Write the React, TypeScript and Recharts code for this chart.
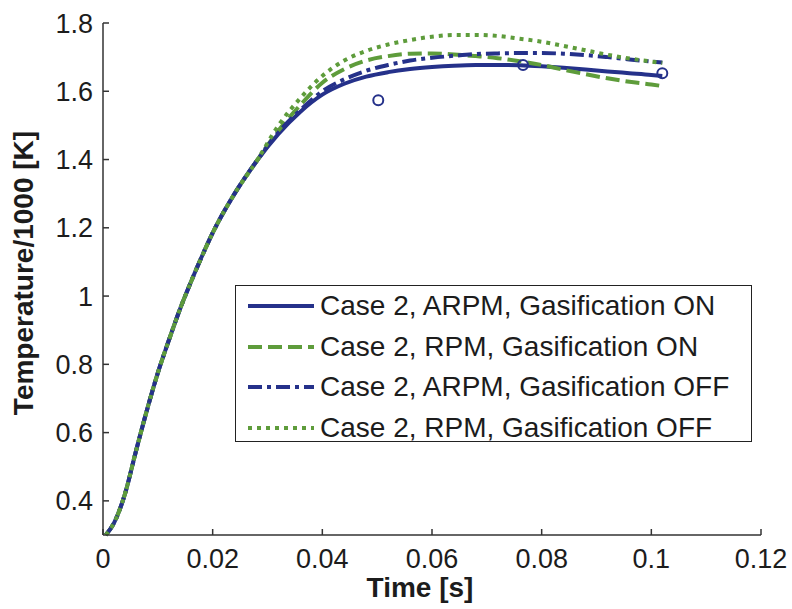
import React from 'react';
import {
  ComposedChart, Line, Scatter, XAxis, YAxis, Legend,
} from 'recharts';

const time = [0.0005, 0.002, 0.004, 0.006, 0.008, 0.01, 0.012, 0.014, 0.016, 0.018, 0.02, 0.024, 0.028,
  0.032, 0.036, 0.04, 0.044, 0.048, 0.052, 0.056, 0.06, 0.064, 0.068, 0.072, 0.076, 0.08, 0.084,
  0.088, 0.092, 0.096, 0.1, 0.102];

// shared rise, all four cases overlap here
const rise = [0.3, 0.335, 0.42, 0.545, 0.665, 0.775, 0.87, 0.96, 1.04, 1.115, 1.185, 1.3, 1.395];

const arpmOn = [...rise, 1.475, 1.54, 1.59, 1.622, 1.643, 1.656, 1.665, 1.671, 1.675, 1.677, 1.677, 1.676,
  1.673, 1.669, 1.664, 1.658, 1.653, 1.648, 1.645];
const rpmOn = [...rise, 1.485, 1.56, 1.625, 1.665, 1.69, 1.703, 1.71, 1.711, 1.708, 1.703, 1.697, 1.688,
  1.677, 1.663, 1.65, 1.638, 1.628, 1.62, 1.615];
const arpmOff = [...rise, 1.48, 1.545, 1.6, 1.635, 1.66, 1.677, 1.69, 1.698, 1.704, 1.709, 1.711, 1.712,
  1.712, 1.71, 1.706, 1.7, 1.693, 1.687, 1.684];
const rpmOff = [...rise, 1.5, 1.58, 1.645, 1.69, 1.718, 1.737, 1.75, 1.76, 1.765, 1.765, 1.762, 1.754,
  1.745, 1.733, 1.72, 1.707, 1.696, 1.687, 1.683];

const expTime = [0.0502, 0.0766, 0.102];
const expTemp = [1.574, 1.677, 1.653];

const xTicks = [0, 0.02, 0.04, 0.06, 0.08, 0.1, 0.12];
const yTicks = [0.4, 0.6, 0.8, 1, 1.2, 1.4, 1.6, 1.8];

const BLUE = '#25318a';
const GREEN = '#5e9c3b';
const FONT = '"Liberation Sans", Arial, sans-serif';

const series = [
  { key: 'arpmOn', name: 'Case 2, ARPM, Gasification ON', color: BLUE, dash: undefined },
  { key: 'rpmOn', name: 'Case 2, RPM, Gasification ON', color: GREEN, dash: '14 6' },
  { key: 'arpmOff', name: 'Case 2, ARPM, Gasification OFF', color: BLUE, dash: '14 5 4 5' },
  { key: 'rpmOff', name: 'Case 2, RPM, Gasification OFF', color: GREEN, dash: '4 5' },
];

const data = time.map((t, i) => ({
  t,
  arpmOn: arpmOn[i],
  rpmOn: rpmOn[i],
  arpmOff: arpmOff[i],
  rpmOff: rpmOff[i],
}));

const expData = expTime.map((t, i) => ({ t, v: expTemp[i] }));

const fmt = (v: number) => String(+v.toFixed(2));

const LegendBox = () => (
  <div style={{
    border: '1.5px solid #222', background: '#fff', boxSizing: 'border-box',
    width: 517, height: 157, padding: '0 0 0 12px', fontFamily: FONT,
  }}>
    {series.map((s) => (
      <div key={s.key} style={{ display: 'flex', alignItems: 'center', height: 40.5 }}>
        <svg width={68} height={10} style={{ marginRight: 4 }}>
          <line x1={0} y1={5} x2={66} y2={5} stroke={s.color} strokeWidth={4} strokeDasharray={s.dash} />
        </svg>
        <span style={{ fontSize: 28, color: '#1c1c1c', whiteSpace: 'nowrap' }}>{s.name}</span>
      </div>
    ))}
  </div>
);

const Circle = (props: any) => (
  <circle cx={props.cx} cy={props.cy} r={5} fill="none" stroke={BLUE} strokeWidth={2} />
);

const labelText = { fill: '#1c1c1c', fontSize: 28, fontWeight: 'bold', fontFamily: FONT } as const;

export default function App() {
  const axisStroke = '#333';
  const tickStyle = { fill: '#1c1c1c', fontSize: 27, fontFamily: FONT };
  return (
    <div style={{ position: 'absolute', left: 0, top: 0, background: '#fff' }}>
      <ComposedChart width={792} height={609} data={data} margin={{ top: 23, right: 31, bottom: 0, left: 0 }}>
        <XAxis
          dataKey="t" type="number" domain={[0, 0.12]} ticks={xTicks} tickFormatter={fmt}
          height={74} tickSize={-6} tickMargin={20} stroke={axisStroke} strokeWidth={1.5}
          tick={tickStyle}
          label={{ content: () => <text x={420} y={597} textAnchor="middle" {...labelText}>Time [s]</text> }}
        />
        <XAxis
          xAxisId="top" orientation="top" dataKey="t" type="number" domain={[0, 0.12]} ticks={xTicks}
          height={0} tickSize={-6} tick={false} stroke={axisStroke} strokeWidth={1.5}
        />
        <YAxis
          type="number" domain={[0.3, 1.8]} ticks={yTicks} tickFormatter={fmt}
          width={103} tickSize={-6} tickMargin={16} stroke={axisStroke} strokeWidth={1.5}
          tick={tickStyle}
          label={{ content: () => <text x={33} y={273} textAnchor="middle" transform="rotate(-90 33 273)" {...labelText}>Temperature/1000 [K]</text> }}
        />
        <YAxis
          yAxisId="right" orientation="right" type="number" domain={[0.3, 1.8]} ticks={yTicks}
          width={0} tickSize={-6} tick={false} stroke={axisStroke} strokeWidth={1.5}
        />
        <Legend
          content={<LegendBox />}
          layout="vertical" align="center" verticalAlign="middle"
          wrapperStyle={{ position: 'absolute', left: 235, top: 285, width: 517, height: 157 }}
        />
        {series.map((s) => (
          <Line
            key={s.key} dataKey={s.key} name={s.name} type="monotone" stroke={s.color}
            strokeWidth={4} strokeDasharray={s.dash} dot={false} isAnimationActive={false}
          />
        ))}
        <Scatter data={expData} dataKey="v" shape={<Circle />} isAnimationActive={false} legendType="none" />
      </ComposedChart>
    </div>
  );
}
